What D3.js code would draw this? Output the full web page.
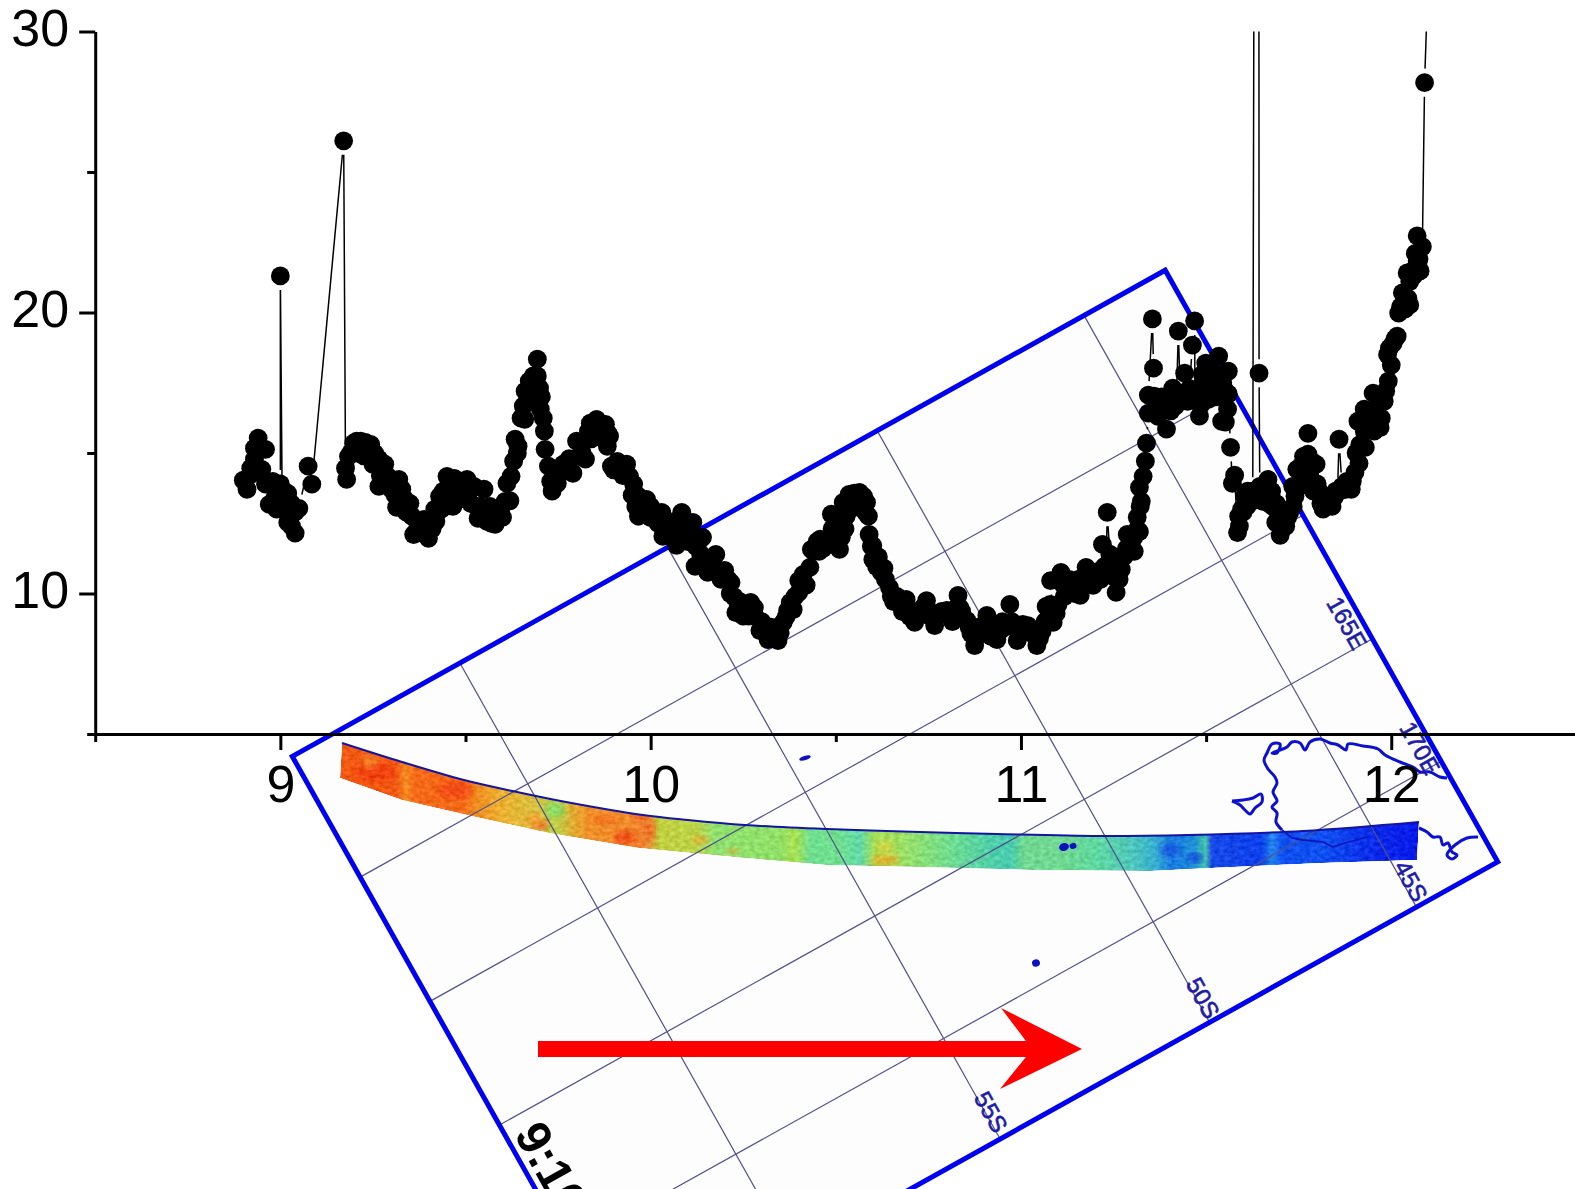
<!DOCTYPE html>
<html><head><meta charset="utf-8">
<script src="https://cdn.jsdelivr.net/npm/d3@7/dist/d3.min.js"></script>
<style>html,body{margin:0;padding:0;background:#fff}svg{display:block}text{font-family:"Liberation Sans",Arial,sans-serif}</style>
</head><body><svg id="c" width="1575" height="1189"></svg>
<script>
// Series: universal time (hours), value
const hours = [8.90,8.91,8.92,8.92,8.93,8.93,8.94,8.95,8.96,8.96,8.97,8.98,8.99,9.00,9.00,9.01,9.02,9.02,9.03,9.04,9.04,9.05,9.075,9.085,9.171,9.176,9.179,9.184,9.198,9.206,9.217,9.23,9.244,9.255,9.266,9.266,9.282,9.29,9.30,9.32,9.328,9.314,9.336,9.35,9.355,9.36,9.377,9.388,9.40,9.417,9.42,9.43,9.44,9.45,9.466,9.47,9.48,9.49,9.504,9.51,9.523,9.534,9.54,9.55,9.558,9.566,9.58,9.588,9.60,9.607,9.612,9.623,9.63,9.634,9.642,9.65,9.656,9.661,9.672,9.683,9.694,9.694,9.70,9.702,9.71,9.713,9.715,9.724,9.73,9.734,9.748,9.764,9.775,9.79,9.80,9.807,9.824,9.832,9.837,9.854,9.864,9.878,9.889,9.883,9.894,9.91,9.935,9.943,9.954,9.967,9.967,9.978,9.989,10.0,10.01,10.03,10.033,10.046,10.054,10.065,10.07,10.084,10.09,10.10,10.114,10.122,10.13,10.12,10.14,10.15,10.154,10.168,10.176,10.184,10.20,10.209,10.217,10.225,10.23,10.241,10.255,10.27,10.282,10.295,10.306,10.317,10.33,10.344,10.358,10.366,10.377,10.385,10.40,10.40,10.412,10.43,10.434,10.45,10.458,10.47,10.488,10.50,10.51,10.52,10.528,10.536,10.55,10.564,10.575,10.583,10.588,10.59,10.596,10.60,10.61,10.623,10.634,10.645,10.656,10.67,10.68,10.69,10.70,10.713,10.726,10.745,10.756,10.767,10.786,10.808,10.82,10.83,10.84,10.854,10.865,10.875,10.89,10.908,10.92,10.935,10.95,10.962,10.97,10.98,10.99,11.0,11.019,11.03,11.043,11.057,11.068,11.079,11.087,11.095,11.08,11.108,11.117,11.127,11.138,11.16,11.17,11.176,11.195,11.206,11.22,11.233,11.225,11.244,11.257,11.271,11.279,11.287,11.298,11.306,11.314,11.314,11.322,11.32,11.325,11.33,11.336,11.339,11.344,11.344,11.355,11.358,11.36,11.369,11.374,11.387,11.393,11.40,11.41,11.417,11.425,11.43,11.442,11.45,11.463,11.469,11.474,11.482,11.488,11.499,11.499,11.51,11.52,11.534,11.54,11.542,11.55,11.558,11.56,11.566,11.571,11.577,11.585,11.588,11.596,11.604,11.612,11.62,11.626,11.634,11.642,11.643,11.645,11.653,11.667,11.677,11.688,11.696,11.70,11.715,11.726,11.734,11.74,11.745,11.756,11.763,11.775,11.775,11.785,11.797,11.79,11.805,11.816,11.83,11.846,11.85,11.859,11.867,11.88,11.892,11.902,11.913,11.92,11.91,11.927,11.927,11.94,11.954,11.951,11.96,11.973,11.981,11.992,12.0,11.995,12.01,12.016,12.02,12.03,12.038,12.05,12.043,12.057,12.07,12.078,12.084,12.07,12.09,12.11];
const values = [14.03,13.71,14.24,14.46,14.78,15.17,15.53,14.42,15.13,13.89,13.17,13.99,13.0,13.9,21.3,13.64,12.53,13.56,13.2,12.15,12.9,13.03,14.53,13.89,26.11,14.46,14.06,14.88,15.35,15.42,15.42,15.38,15.31,14.99,14.78,13.81,14.6,14.17,13.71,14.06,13.71,13.07,13.35,13.21,12.75,12.10,12.39,12.64,11.96,13.0,12.57,13.46,13.64,14.17,13.1,14.1,13.64,13.46,14.06,13.64,13.81,12.67,13.1,13.71,12.57,13.1,12.46,12.75,12.71,13.28,13.92,14.17,14.71,15.49,15.24,16.24,16.67,17.2,17.56,17.74,18.34,17.74,17.31,16.56,16.24,15.78,15.13,14.53,13.99,13.64,13.92,14.6,14.42,14.28,15.42,14.88,14.78,15.78,16.06,16.2,15.95,16.02,15.6,15.24,14.53,14.7,14.6,14.17,13.89,13.46,12.75,13.28,13.35,13.1,12.85,12.89,12.03,12.39,12.21,12.57,11.71,12.89,12.57,11.85,12.53,11.68,11.85,10.97,12.0,11.14,10.75,11.07,11.39,10.78,10.82,10.5,10.39,9.89,9.32,9.71,9.54,9.68,9.18,8.68,8.82,8.36,8.47,8.32,8.97,9.18,9.68,9.43,10.04,10.46,10.68,10.93,11.57,11.85,11.93,11.68,12.82,12.21,11.57,13.24,12.75,13.53,13.57,13.6,13.46,13.24,12.75,12.1,11.68,11.21,10.96,10.75,10.5,10.21,9.71,9.68,9.36,9.79,9.18,8.97,9.36,9.75,9.18,8.86,9.36,9.22,9.43,9.93,9.36,9.04,8.57,8.15,8.82,9.22,8.47,8.36,9.0,8.82,9.61,8.82,8.32,8.65,8.86,8.57,8.15,8.65,9.54,9.61,8.97,9.29,10.46,10.75,9.89,10.04,10.43,9.93,10.61,10.93,10.29,10.78,11.75,12.89,10.96,10.96,10.04,10.86,11.32,12.10,11.68,11.5,12.28,12.71,13.1,13.78,13.28,14.17,14.71,15.35,16.42,17.06,19.77,18.02,17.02,16.67,16.92,16.67,15.85,16.84,17.31,16.67,19.34,17.13,17.84,16.84,18.84,19.7,17.02,16.31,17.38,18.2,17.13,17.74,17.38,18.45,17.56,16.13,17.02,16.56,17.91,15.2,13.92,14.21,12.17,12.75,13.0,13.46,13.64,13.28,13.64,60,60,17.84,13.81,13.28,14.06,13.64,12.53,12.85,12.07,12.39,12.89,13.81,13.46,14.42,14.53,14.88,15.7,14.96,14.71,14.6,13.64,13.64,13.0,13.17,13.42,13.64,15.49,13.81,13.99,13.71,14.31,14.63,15.24,16.13,15.78,16.56,15.95,15.78,17.13,16.56,16.24,16.84,17.56,18.13,18.73,19.06,19.16,19.98,20.7,20.13,20.27,21.41,21.48,21.84,21.48,22.34,22.73,28.18,36];
// Further readings inside the dense clusters [hour, value]
const clusterPoints = [[8.97,13.9],[8.985,13.4],[9.005,13.3],[9.025,12.9],[9.03,12.4],[9.19,15.0],[9.21,15.0],[9.225,14.9],[9.24,14.9],[9.25,14.6],[9.27,14.2],[9.285,13.9],[9.31,13.5],[9.34,12.9],[9.37,12.3],[9.41,12.3],[9.435,13.0],[9.455,13.4],[9.475,13.3],[9.495,13.9],[9.515,13.2],[9.53,13.1],[9.545,12.9],[9.57,12.5],[9.595,12.9],[9.62,13.3],[9.64,15.0],[9.66,16.2],[9.665,16.8],[9.68,17.3],[9.69,17.4],[9.705,17.0],[9.74,14.2],[9.755,14.3],[9.78,14.8],[9.815,15.0],[9.84,15.5],[9.85,15.7],[9.87,15.6],[9.885,15.7],[9.90,14.4],[9.925,14.2],[9.95,13.5],[9.96,13.1],[9.985,12.9],[10.0,12.7],[10.02,12.5],[10.04,12.6],[10.06,12.0],[10.075,12.3],[10.095,12.2],[10.105,12.3],[10.135,11.4],[10.145,11.2],[10.16,11.0],[10.19,10.5],[10.215,10.0],[10.235,9.7],[10.25,9.2],[10.265,9.2],[10.28,9.5],[10.30,9.0],[10.325,8.8],[10.35,8.6],[10.37,9.4],[10.39,9.9],[10.42,10.3],[10.44,11.5],[10.455,11.5],[10.465,11.6],[10.48,11.75],[10.49,12.3],[10.495,11.9],[10.505,12.5],[10.515,12.0],[10.525,12.3],[10.54,13.0],[10.56,13.1],[10.58,12.9],[10.60,11.7],[10.615,11.3],[10.63,10.9],[10.65,9.9],[10.665,9.9],[10.685,9.6],[10.695,9.4],[10.72,9.2],[10.735,9.5],[10.75,9.4],[10.775,9.2],[10.80,9.4],[10.815,9.0],[10.835,9.5],[10.86,8.8],[10.885,8.5],[10.90,8.8],[10.915,8.9],[10.93,8.8],[10.945,8.7],[10.975,9.0],[11.005,8.9],[11.025,8.7],[11.05,8.4],[11.065,9.0],[11.075,9.2],[11.10,9.6],[11.115,10.3],[11.13,10.5],[11.145,10.0],[11.155,10.5],[11.18,10.4],[11.19,10.7],[11.215,10.5],[11.23,10.9],[11.24,11.4],[11.25,10.6],[11.265,10.5],[11.285,11.6],[11.305,12.0],[11.32,12.2],[11.37,16.3],[11.38,17.0],[11.395,16.9],[11.405,16.5],[11.42,17.0],[11.44,16.9],[11.455,17.3],[11.47,16.9],[11.485,16.7],[11.49,17.8],[11.505,16.9],[11.515,17.9],[11.525,17.0],[11.53,17.8],[11.545,17.5],[11.552,16.1],[11.56,17.1],[11.59,12.4],[11.60,12.9],[11.61,13.1],[11.625,13.3],[11.65,13.6],[11.66,13.7],[11.67,13.2],[11.68,13.1],[11.69,13.2],[11.705,12.6],[11.72,12.7],[11.735,13.1],[11.75,13.8],[11.76,14.2],[11.77,14.3],[11.78,14.2],[11.80,13.9],[11.81,13.2],[11.825,13.4],[11.84,13.1],[11.855,13.6],[11.875,13.7],[11.895,14.0],[11.905,15.0],[11.915,15.3],[11.93,15.2],[11.935,16.2],[11.945,16.5],[11.955,16.4],[11.965,17.0],[11.97,15.9],[11.985,17.2],[11.99,18.5],[12.005,18.9],[12.025,20.2],[12.035,20.4],[12.045,20.5],[12.05,21.1],[12.06,21.3],[12.065,22.1],[12.075,21.9]];
const yTicksMajor = [10,20,30];
const yTicksMinor = [5,15,25];
const xTicksMajor = [9,10,11,12];
const xTicksMinor = [8.5,9.5,10.5,11.5,12.5];
// Inset orbit map (illustration behind the chart), in page pixels / fractions of its frame
const mapMeridians = [0.192,0.43,0.67,0.907];
const mapParallels = [0.204,0.414,0.623,0.83];
const mapLabels = [["165E",1347,623],["170E",1420,748],["45S",1411,881],["50S",1203,998],["55S",991,1112]];
const bandTop = [[342,743],[402,762],[464,780],[517,792],[566,802],[643,815],[688,820],[745,825],[827,829],[920,832],[997,834],[1100,836],[1188,835],[1303,831],[1419,822]];
const bandBottom = [[340,778],[402,800],[476,817],[549,833],[639,848],[745,858],[827,865],[920,867],[1035,870],[1150,871],[1211,868],[1322,863],[1417,860]];
const bandStops = [[342,"#f25a14"],[397,"#f25a14"],[405,"#f58a20"],[415,"#f56a18"],[463,"#f56a18"],[475,"#f08a20"],[500,"#eeb030"],[535,"#d8c040"],[555,"#b8d048"],[575,"#e4a830"],[590,"#f09028"],[630,"#f08c2c"],[645,"#f08030"],[660,"#c0d040"],[697,"#bcd448"],[715,"#90e070"],[780,"#90e068"],[795,"#a8e050"],[810,"#70e090"],[840,"#70e090"],[860,"#60d8a8"],[875,"#a8e058"],[897,"#a0e060"],[915,"#90e070"],[950,"#70dc90"],[990,"#50d0a8"],[1010,"#48ccb0"],[1025,"#70d890"],[1063,"#70d890"],[1095,"#60d8a0"],[1130,"#50c8b8"],[1155,"#38b0d0"],[1172,"#1878e0"],[1195,"#2090d8"],[1205,"#48c8a8"],[1212,"#1848e8"],[1262,"#0c40ec"],[1272,"#2488ec"],[1282,"#1050f0"],[1323,"#1050f0"],[1370,"#0c2cea"],[1420,"#0818e8"]];
const bandBlotches = [[375,772,20,10,"#f03c10"],[455,790,18,9,"#f24a14"],[370,762,8,6,"#f59030"],[540,825,8,5,"#f05020"],[625,838,11,8,"#f04a14"],[640,815,8,4,"#f05020"],[650,830,5,11,"#f06020"],[605,820,14,5,"#f27020"],[555,810,10,7,"#80e070"],[535,820,10,7,"#f0a030"],[700,840,8,4,"#f0a030"],[733,851,6,3,"#f0a030"],[885,860,14,5,"#f0a020"],[885,848,9,8,"#d0d040"],[1170,850,10,6,"#1850e0"],[1195,858,8,5,"#1040e0"]];
const coastA = [[1282,830],[1276,822],[1277,813],[1272,807],[1277,801],[1273,792],[1277,783],[1275,777],[1268,769],[1264,760],[1267,753],[1272,744],[1280,744],[1277,753],[1272,753],[1280,750],[1287,747],[1292,742],[1300,743],[1305,750],[1310,742],[1320,739],[1330,743],[1338,745],[1346,750],[1348,744],[1363,746],[1378,749],[1385,755],[1400,762],[1413,767],[1420,772],[1430,772],[1440,777],[1447,778]];
const coastB = [[1419,828],[1427,832],[1433,837],[1440,837],[1443,845],[1448,843],[1452,852],[1457,855],[1452,859],[1447,855],[1455,845],[1467,838],[1478,837]];
const coastIsland = [[1232,801],[1243,800],[1253,798],[1261,794],[1262,802],[1255,808],[1250,814],[1245,810],[1240,805],[1232,801]];
const coastInner = [[1282,830],[1292,838],[1303,840],[1323,842],[1333,847],[1345,843],[1367,837]];
const islets = [[805,758,6,2.2],[1064,847,5,4],[1073,846,3.5,3],[1036,963,4,3.6]];
const arrow = [[538,1041],[1026,1041],[1001,1008],[1082,1049],[1000,1089],[1026,1057],[538,1057]];

const svg = d3.select("#c");
const x = d3.scaleLinear().domain([8.5,12.5]).range([95.2,1576.4]);
const y = d3.scaleLinear().domain([5,30]).range([734,31.5]);

// --- inset map ---
const O=[292.3,756.4],U=[872.9,-486.2],V=[332.5,591.7];
const pt=(u,v)=>[O[0]+u*U[0]+v*V[0],O[1]+u*U[1]+v*V[1]];
const map = svg.append("g");
const defs = svg.append("defs");
const lg = defs.append("linearGradient").attr("id","band").attr("gradientUnits","userSpaceOnUse").attr("x1",342).attr("x2",1420).attr("y1",0).attr("y2",0);
bandStops.forEach(s=>lg.append("stop").attr("offset",(s[0]-342)/(1420-342)).attr("stop-color",s[1]));
const bandPath = d3.line()(bandTop.concat(bandBottom.slice().reverse()))+"Z";
defs.append("clipPath").attr("id","bandClip").append("path").attr("d",bandPath);
defs.append("filter").attr("id","blur").append("feGaussianBlur").attr("stdDeviation",3.5);
const f = defs.append("filter").attr("id","grain").attr("filterUnits","userSpaceOnUse").attr("x",330).attr("y",735).attr("width",1100).attr("height",145).attr("color-interpolation-filters","sRGB");
f.append("feTurbulence").attr("type","fractalNoise").attr("baseFrequency","0.2 0.28").attr("numOctaves",2).attr("seed",5).attr("result","n");
f.append("feColorMatrix").attr("in","n").attr("type","matrix").attr("values","1 0 0 0 0  1 0 0 0 0  1 0 0 0 0  0 0 0 0 1").attr("result","g");
f.append("feComposite").attr("in","SourceGraphic").attr("in2","g").attr("operator","arithmetic").attr("k1",0).attr("k2",1).attr("k3",0.22).attr("k4",-0.11).attr("result","b");
f.append("feComposite").attr("in","b").attr("in2","SourceGraphic").attr("operator","in");

const frame = d3.line()([pt(0,0),pt(1,0),pt(1,1),pt(0,1)])+"Z";
map.append("path").attr("d",frame).attr("fill","#fdfdfd");
const bandG = map.append("g").attr("filter","url(#grain)");
const bandInner = bandG.append("g").attr("clip-path","url(#bandClip)");
bandInner.append("path").attr("d",bandPath).attr("fill","url(#band)");
bandInner.selectAll("ellipse").data(bandBlotches).join("ellipse").attr("cx",d=>d[0]).attr("cy",d=>d[1]).attr("rx",d=>d[2]).attr("ry",d=>d[3]).attr("fill",d=>d[4]).attr("filter","url(#blur)").attr("opacity",0.9);
const gridLine = d3.line();
mapMeridians.forEach(u=>map.append("path").attr("d",gridLine([pt(u,0),pt(u,1)])).attr("stroke","#50508c").attr("stroke-width",1.2).attr("fill","none"));
mapParallels.forEach(v=>map.append("path").attr("d",gridLine([pt(0,v),pt(1,v)])).attr("stroke","#50508c").attr("stroke-width",1.2).attr("fill","none"));
map.append("path").attr("d",d3.line().curve(d3.curveCatmullRom)(bandTop)).attr("fill","none").attr("stroke","#1414a0").attr("stroke-width",2);
[coastA,coastB,coastIsland].forEach(c=>map.append("path").attr("d",d3.line().curve(d3.curveCatmullRom.alpha(0.5))(c)).attr("fill","none").attr("stroke","#0c10d0").attr("stroke-width",3));
map.append("path").attr("d",d3.line()(coastInner)).attr("fill","none").attr("stroke","#0a18b8").attr("stroke-width",1.8);
islets.forEach(i=>map.append("ellipse").attr("cx",i[0]).attr("cy",i[1]).attr("rx",i[2]).attr("ry",i[3]).attr("fill","#0c10c0").attr("transform",`rotate(-18 ${i[0]} ${i[1]})`));
map.append("path").attr("d",frame).attr("fill","none").attr("stroke","#0000f0").attr("stroke-width",5);
mapLabels.forEach(l=>map.append("text").attr("x",l[1]).attr("y",l[2]).attr("transform",`rotate(60.7 ${l[1]} ${l[2]})`).attr("text-anchor","middle").attr("dominant-baseline","central").attr("font-size",24).attr("fill","#1c1ca8").attr("stroke","#1c1ca8").attr("stroke-width",0.6).text(l[0]));
map.append("text").attr("x",513.5).attr("y",1134).attr("transform","rotate(61 513.5 1134)").attr("font-size",48).attr("font-weight","bold").attr("fill","#000").text("9:10");
map.append("path").attr("d",d3.line()(arrow)+"Z").attr("fill","#ff0000");

// --- axes ---
const axisFont = g=>g.selectAll("text").attr("font-size",52).attr("font-family",'"Liberation Sans",Arial,sans-serif').attr("fill","#000");
const axisLine = g=>g.selectAll("line,path").attr("stroke","#000").attr("stroke-width",3);
svg.append("g").attr("transform",`translate(0,${y(5)})`).call(d3.axisBottom(x).tickValues(xTicksMajor).tickFormat(d3.format("d")).tickSizeInner(16).tickSizeOuter(0).tickPadding(15)).call(axisFont).call(axisLine);
svg.append("g").attr("transform",`translate(0,${y(5)})`).call(d3.axisBottom(x).tickValues(xTicksMinor).tickFormat("").tickSizeInner(8).tickSizeOuter(0)).call(axisLine).select("path").remove();
svg.append("g").attr("transform",`translate(${x(8.5)},0)`).call(d3.axisLeft(y).tickValues(yTicksMajor).tickFormat(d3.format("d")).tickSizeInner(16).tickSizeOuter(0).tickPadding(10)).call(axisFont).call(axisLine).call(g=>g.selectAll("text").attr("dy","0.26em"));
svg.append("g").attr("transform",`translate(${x(8.5)},0)`).call(d3.axisLeft(y).tickValues(yTicksMinor).tickFormat("").tickSizeInner(8).tickSizeOuter(0)).call(axisLine).select("path").remove();

// --- series ---
const allPoints = hours.map((h,i)=>[h,values[i]]).concat(clusterPoints).map((d,i)=>[d[0],d[1],i]).sort((a,b)=>a[0]-b[0]||a[2]-b[2]);
const pts = allPoints.map(d=>[x(d[0]),y(d[1])]);
defs.append("clipPath").attr("id","plot").append("rect").attr("x",x(8.5)).attr("y",y(30)).attr("width",x(12.5)-x(8.5)).attr("height",y(5)-y(30));
const gap = 14;
let seg = "";
for(let i=1;i<pts.length;i++){
  const a=pts[i-1],b=pts[i],dx=b[0]-a[0],dy=b[1]-a[1],len=Math.hypot(dx,dy);
  if(len<=2*gap) continue;
  const ux=dx/len,uy=dy/len;
  seg+=`M${a[0]+ux*gap},${a[1]+uy*gap}L${b[0]-ux*gap},${b[1]-uy*gap}`;
}
svg.append("g").attr("clip-path","url(#plot)").append("path").attr("d",seg).attr("fill","none").attr("stroke","#000").attr("stroke-width",1.5);
svg.append("g").selectAll("circle").data(pts.filter(p=>p[1]>=y(30))).join("circle").attr("cx",d=>d[0]).attr("cy",d=>d[1]).attr("r",9.4).attr("fill","#000");
</script></body></html>
